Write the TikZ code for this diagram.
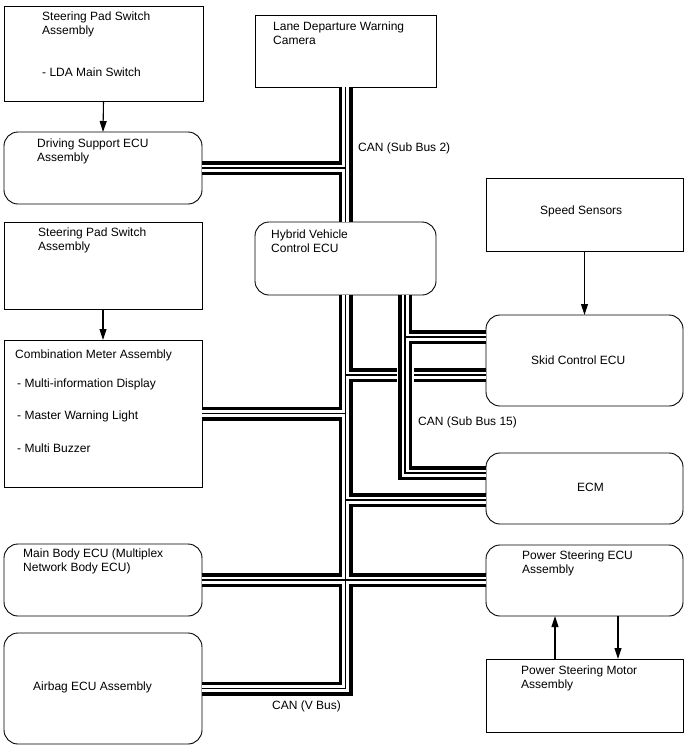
\documentclass[tikz,border=0pt]{standalone}
\usepackage{fontspec}
\setmainfont{Liberation Sans}
\usetikzlibrary{arrows.meta}

\begin{document}
\begin{tikzpicture}[x=1pt, y=-1pt,
  every node/.style={font=\fontsize{12}{14}\selectfont},
  box/.style={draw, line width=0.9pt, inner sep=0pt, outer sep=0pt, fill=white},
  ecu/.style={box, rounded corners=14pt},
  txt/.style={anchor=north west, inner sep=0pt, align=left},
  >={Triangle[length=11pt, width=7pt]}]
  \useasboundingbox (0,0) rectangle (688,755);
  % boxes
  \node[box, minimum width=199pt, minimum height=95pt] (sps1) at (103.5,53.5) {};
  \node[ecu, minimum width=198pt, minimum height=72pt] (dsecu) at (103,168) {};
  \node[box, minimum width=181pt, minimum height=72pt] (ldw) at (345.5,51) {};
  \node[box, minimum width=198pt, minimum height=87pt] (sps2) at (103,265.5) {};
  \node[box, minimum width=198pt, minimum height=147pt] (comb) at (103,413.5) {};
  \node[ecu, minimum width=181pt, minimum height=73pt] (hv) at (345.5,258.5) {};
  \node[box, minimum width=197pt, minimum height=73pt] (speed) at (584.5,214.5) {};
  \node[ecu, minimum width=197pt, minimum height=91pt] (skid) at (584.5,360.5) {};
  \node[ecu, minimum width=197pt, minimum height=71pt] (ecm) at (584.5,488.5) {};
  \node[ecu, minimum width=198pt, minimum height=72pt] (mainbody) at (103,580) {};
  \node[ecu, minimum width=197pt, minimum height=71pt] (psecu) at (584.5,580.5) {};
  \node[ecu, minimum width=198pt, minimum height=111pt] (airbag) at (103,688.5) {};
  \node[box, minimum width=197pt, minimum height=73pt] (motor) at (584.5,695.5) {};
  % texts
  \node[txt] (t1) at (42,11.5) {Steering Pad Switch\\Assembly};
  \node[txt] (t2) at (42,67.5) {- LDA Main Switch};
  \node[txt] (t3) at (37,138.5) {Driving Support ECU\\Assembly};
  \node[txt] (t4) at (273,21.5) {Lane Departure Warning\\Camera};
  \node[txt] (t5) at (38,227.5) {Steering Pad Switch\\Assembly};
  \node[txt] (t6) at (15,349.5) {Combination Meter Assembly};
  \node[txt] (t7) at (17,378.5) {- Multi-information Display};
  \node[txt] (t8) at (17,410.5) {- Master Warning Light};
  \node[txt] (t9) at (17,443.5) {- Multi Buzzer};
  \node[txt] (t10) at (271,229.5) {Hybrid Vehicle\\Control ECU};
  \node[txt] (t11) at (540,205.5) {Speed Sensors};
  \node[txt] (t12) at (531,355.5) {Skid Control ECU};
  \node[txt] (t13) at (577,482.5) {ECM};
  \node[txt] (t14) at (23,548.5) {Main Body ECU (Multiplex\\Network Body ECU)};
  \node[txt] (t15) at (522,550.5) {Power Steering ECU\\Assembly};
  \node[txt] (t16) at (33,681.5) {Airbag ECU Assembly};
  \node[txt] (t17) at (521,665.5) {Power Steering Motor\\Assembly};
  \node[txt] (l1) at (358,142.5) {CAN (Sub Bus 2)};
  \node[txt] (l2) at (418,416.5) {CAN (Sub Bus 15)};
  \node[txt] (l3) at (272,700.5) {CAN (V Bus)};
  % arrows
  \draw[->, line width=1.1pt] (sps1.south) -- (dsecu.north);
  \draw[->, line width=1.1pt] (sps2.south) -- (comb.north);
  \draw[->, line width=1.1pt] (speed.south) -- (skid.north);
  \draw[->, line width=1.1pt] ([xshift=-29.5pt]motor.north) -- ([xshift=-29.5pt]psecu.south);
  \draw[->, line width=1.1pt] ([xshift=33.5pt]psecu.south) -- ([xshift=33.5pt]motor.north);
  % bus points
  \coordinate (skidv) at ([yshift=-14.5pt]skid.west);
  \coordinate (ecmv) at ([yshift=-11.5pt]ecm.west);
  \coordinate (skids) at ([yshift=23.5pt]skid.west);
  \coordinate (ecms) at ([yshift=15.5pt]ecm.west);
  \coordinate (s15) at ([xshift=59.5pt]hv.south);
  \coordinate (cross) at (s15 |- skidv);
  % CAN (Sub Bus 2) and CAN (V Bus)
  \foreach \w/\c in {14/black, 7/white, 1.2/black}
    \draw[line width=\w pt, \c] (ldw.south) -- (hv.north)
      (dsecu.east) -- (dsecu.east -| ldw.south)
      (hv.south) -- (hv.south |- airbag.east) -- (airbag.east)
      (comb.east) -- (comb.east -| hv.south)
      (skidv -| hv.south) -- (skidv)
      (ecmv -| hv.south) -- (ecmv)
      (mainbody.east) -- (mainbody.east -| psecu.west);
  % CAN (Sub Bus 15)
  \draw[white, line width=17pt] ([yshift=10pt]cross) -- ([yshift=-10pt]cross);
  \foreach \w/\c in {14/black, 7/white, 1.2/black}
    \draw[line width=\w pt, \c] (s15) -- (s15 |- ecms) -- (ecms)
      (s15 |- skids) -- (skids);
\end{tikzpicture}
\end{document}
